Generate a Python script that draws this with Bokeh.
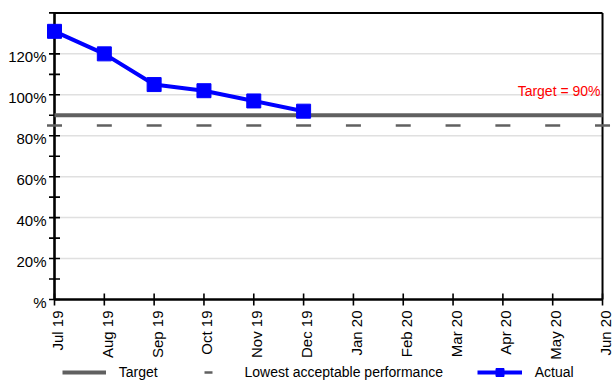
import math

from bokeh.core.properties import value
from bokeh.embed import file_html
from bokeh.models import Legend, LegendItem, Range1d
from bokeh.plotting import figure
from bokeh.resources import INLINE

# ---- data -------------------------------------------------------------
months = ["Jul 19", "Aug 19", "Sep 19", "Oct 19", "Nov 19", "Dec 19",
          "Jan 20", "Feb 20", "Mar 20", "Apr 20", "May 20", "Jun 20"]
actual = [131, 120, 105, 102, 97, 92]          # % per month, Jul 19 .. Dec 19
target = 90                                    # %
lowest_acceptable = 85                         # %
y_grid = [20, 40, 60, 80, 100, 120]
y_label_ticks = [0, 20, 40, 60, 80, 100, 120]
y_tick_labels = ["%", "20%", "40%", "60%", "80%", "100%", "120%"]
y_minor_ticks = [0, 10, 20, 30, 40, 50, 60, 70, 80, 90, 100, 110, 120, 130, 140]
y_top = 140

# ---- layout -----------------------------------------------------------
W, H = 613, 380
AXIS_X, AXIS_Y = 54, 299          # pixel position of the axes' corner
PX_PER_MONTH = 49.82
PX_PER_PCT = 2.047
FONT = "Liberation Sans"

x_idx = list(range(len(months)))
x_last = len(months) - 1

# the plotting frame covers the whole canvas, so the axes, their labels
# and the legend are all drawn inside it
p = figure(width=W, height=H,
           x_range=Range1d(-AXIS_X / PX_PER_MONTH, (W - AXIS_X) / PX_PER_MONTH),
           y_range=Range1d(-(H - AXIS_Y) / PX_PER_PCT, AXIS_Y / PX_PER_PCT),
           x_axis_location=None, y_axis_location=None,
           output_backend="svg", toolbar_location=None, min_border=0)
p.outline_line_color = None
p.grid.visible = False
p.background_fill_color = "white"
p.border_fill_color = "white"

# horizontal grid lines
p.segment(x0=[0] * len(y_grid), y0=y_grid, x1=[x_last] * len(y_grid), y1=y_grid,
          line_color="#e0e0e0", line_width=1.5)

# plot box: axes on the left/bottom, thinner frame on the top/right
p.segment(x0=[0, 0], y0=[0, 0], x1=[0, x_last], y1=[y_top, 0],
          line_color="black", line_width=2.6)
p.segment(x0=[0, x_last], y0=[y_top, 0], x1=[x_last, x_last], y1=[y_top, y_top],
          line_color="black", line_width=2)

# tick marks crossing the axes
p.scatter(x=[0] * len(y_minor_ticks), y=y_minor_ticks, marker="dash", size=11,
          line_color="black", line_width=1.6)
p.scatter(x=x_idx, y=[0] * len(months), marker="dash", angle=math.pi / 2, size=12,
          line_color="black", line_width=1.6)

# axis labels
p.text(x=[0] * len(y_label_ticks), y=y_label_ticks, text=y_tick_labels,
       text_align="right", text_baseline="middle", x_offset=-8, y_offset=3,
       text_color="black", text_font=value(FONT), text_font_size="15px")
p.text(x=x_idx, y=[0] * len(months), text=months, angle=math.pi / 2,
       text_align="right", text_baseline="middle", x_offset=3, y_offset=11,
       text_color="black", text_font=value(FONT), text_font_size="15px")

# target and lowest acceptable performance
r_target = p.line(x=[0, x_last], y=[target, target], line_color="#606060", line_width=4)
r_lowest = p.scatter(x=x_idx, y=[lowest_acceptable] * len(months), marker="dash",
                     size=15, line_color="#606060", line_width=2.5)

# actual performance
r_actual_line = p.line(x=x_idx[:len(actual)], y=actual, line_color="#0000ff", line_width=4)
r_actual_pts = p.scatter(x=x_idx[:len(actual)], y=actual, marker="square", size=14,
                         fill_color="#0000ff", line_color="#0000ff")

p.text(x=[x_last], y=[target], text=[f"Target = {target}%"],
       text_align="right", text_baseline="alphabetic", x_offset=-2, y_offset=-24,
       text_color="#ff0000", text_font=value(FONT), text_font_size="14px")


def legend_at(label, renderers, x, width, standoff):
    return Legend(items=[LegendItem(label=label, renderers=renderers)],
                  location=(x, -2), orientation="horizontal",
                  glyph_width=width, glyph_height=20, label_height=20,
                  label_standoff=standoff, padding=0, margin=0,
                  border_line_alpha=0, background_fill_alpha=0,
                  label_text_font=FONT, label_text_font_size="14px",
                  label_text_color="black")


p.add_layout(legend_at("Target", [r_target], 61.7, 44, 13), "center")
p.add_layout(legend_at("Lowest acceptable performance", [r_lowest], 185.5, 44, 15), "center")
p.add_layout(legend_at("Actual", [r_actual_line, r_actual_pts], 476.7, 45, 13), "center")

open("out.html", "w").write(file_html(p, INLINE))
